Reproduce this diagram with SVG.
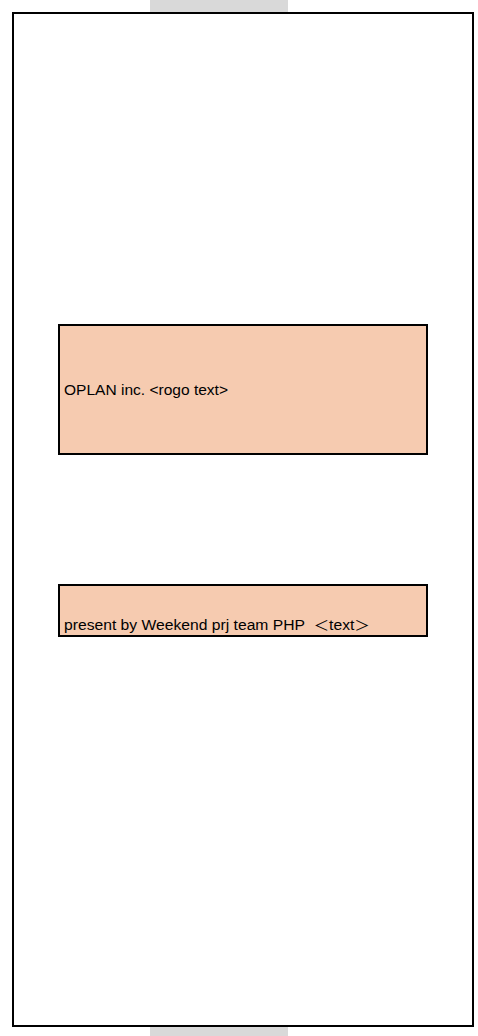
<svg xmlns="http://www.w3.org/2000/svg" width="478" height="1036" viewBox="0 0 478 1036">
<style>
.box{fill:#F6CBB0;stroke:#000;stroke-width:2}
.lbl{font-family:"Liberation Sans","Noto Sans CJK JP",sans-serif;font-size:14px;fill:#000}
</style>
<rect x="0" y="0" width="478" height="1036" fill="#fff"/>
<rect x="150" y="0" width="138" height="13" fill="#D9D9D9"/>
<rect x="150" y="1026" width="138" height="10" fill="#D9D9D9"/>
<g id="frame"><rect x="13" y="13" width="460" height="1013" fill="#fff" stroke="#000" stroke-width="2"/></g>
<g id="logo"><rect class="box" x="59" y="325" width="368" height="129"/><text class="lbl" x="64" y="395" textLength="164" lengthAdjust="spacingAndGlyphs">OPLAN inc. &lt;rogo text&gt;</text></g>
<g id="present"><rect class="box" x="59" y="585" width="368" height="51"/><text class="lbl" x="64" y="630" textLength="306" lengthAdjust="spacingAndGlyphs" xml:space="preserve">present by Weekend prj team PHP  ＜text＞</text></g>
<g id="connectors"/>
</svg>
